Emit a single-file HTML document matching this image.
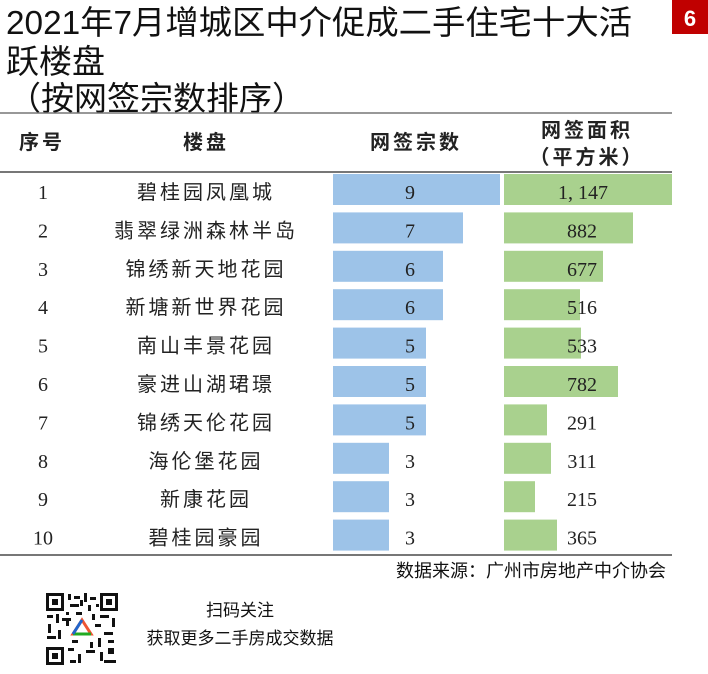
<!DOCTYPE html>
<html><head><meta charset="utf-8"><style>
html,body{margin:0;padding:0;background:#fff;width:708px;height:674px;overflow:hidden}
svg{display:block}
.t{font-family:"Liberation Sans","Noto Sans CJK SC",sans-serif;fill:#111}
.s{font-family:"Liberation Serif","Noto Serif CJK SC",serif;fill:#222;font-size:20px}
.h{font-family:"Liberation Sans","Noto Sans CJK SC",sans-serif;font-weight:bold;font-size:20px;fill:#222;letter-spacing:3px}
.n{font-family:"Liberation Sans","Noto Sans CJK SC",sans-serif;font-size:20px;fill:#222;letter-spacing:3px}
</style></head><body>
<svg width="708" height="674" viewBox="0 0 708 674" xmlns="http://www.w3.org/2000/svg">
<rect x="672" y="0" width="36" height="34" fill="#c00000"/>
<text x="690" y="26" text-anchor="middle" font-family="Liberation Sans,sans-serif" font-weight="bold" font-size="22" fill="#fff">6</text>
<text class="t" x="6" y="34" font-size="33" textLength="626" lengthAdjust="spacingAndGlyphs">2021年7月增城区中介促成二手住宅十大活</text>
<text class="t" x="6" y="73" font-size="33">跃楼盘</text>
<text class="t" x="8" y="110" font-size="33">（按网签宗数排序）</text>
<line x1="0" y1="113" x2="672" y2="113" stroke="#777" stroke-width="1.5"/>
<text class="h" x="42" y="149" text-anchor="middle">序号</text>
<text class="h" x="206" y="149" text-anchor="middle">楼盘</text>
<text class="h" x="416" y="149" text-anchor="middle">网签宗数</text>
<text class="h" x="587" y="137" text-anchor="middle">网签面积</text>
<text class="h" x="587" y="164" text-anchor="middle">（平方米）</text>
<line x1="0" y1="172" x2="672" y2="172" stroke="#777" stroke-width="2"/>
<g fill="#9dc3e8">
<rect x="333" y="174" width="167" height="31"/>
<rect x="333" y="212.4" width="130" height="31"/>
<rect x="333" y="250.8" width="110" height="31"/>
<rect x="333" y="289.2" width="110" height="31"/>
<rect x="333" y="327.6" width="93" height="31"/>
<rect x="333" y="366" width="93" height="31"/>
<rect x="333" y="404.4" width="93" height="31"/>
<rect x="333" y="442.8" width="56" height="31"/>
<rect x="333" y="481.2" width="56" height="31"/>
<rect x="333" y="519.6" width="56" height="31"/>
</g>
<g fill="#a9d18e">
<rect x="504" y="174" width="168" height="31"/>
<rect x="504" y="212.4" width="129" height="31"/>
<rect x="504" y="250.8" width="99" height="31"/>
<rect x="504" y="289.2" width="76" height="31"/>
<rect x="504" y="327.6" width="77" height="31"/>
<rect x="504" y="366" width="114" height="31"/>
<rect x="504" y="404.4" width="43" height="31"/>
<rect x="504" y="442.8" width="47" height="31"/>
<rect x="504" y="481.2" width="31" height="31"/>
<rect x="504" y="519.6" width="53" height="31"/>
</g>
<g class="s" text-anchor="middle">
<text x="43" y="199">1</text><text x="43" y="237.4">2</text><text x="43" y="275.8">3</text><text x="43" y="314.2">4</text><text x="43" y="352.6">5</text><text x="43" y="391">6</text><text x="43" y="429.4">7</text><text x="43" y="467.8">8</text><text x="43" y="506.2">9</text><text x="43" y="544.6">10</text>
<text x="410" y="199">9</text><text x="410" y="237.4">7</text><text x="410" y="275.8">6</text><text x="410" y="314.2">6</text><text x="410" y="352.6">5</text><text x="410" y="391">5</text><text x="410" y="429.4">5</text><text x="410" y="467.8">3</text><text x="410" y="506.2">3</text><text x="410" y="544.6">3</text>
<text x="583" y="199">1, 147</text><text x="582" y="237.4">882</text><text x="582" y="275.8">677</text><text x="582" y="314.2">516</text><text x="582" y="352.6">533</text><text x="582" y="391">782</text><text x="582" y="429.4">291</text><text x="582" y="467.8">311</text><text x="582" y="506.2">215</text><text x="582" y="544.6">365</text>
</g>
<g class="n" text-anchor="middle">
<text x="206" y="199">碧桂园凤凰城</text><text x="206" y="237.4">翡翠绿洲森林半岛</text><text x="206" y="275.8">锦绣新天地花园</text><text x="206" y="314.2">新塘新世界花园</text><text x="206" y="352.6">南山丰景花园</text><text x="206" y="391">豪进山湖珺璟</text><text x="206" y="429.4">锦绣天伦花园</text><text x="206" y="467.8">海伦堡花园</text><text x="206" y="506.2">新康花园</text><text x="206" y="544.6">碧桂园豪园</text>
</g>
<line x1="0" y1="555" x2="672" y2="555" stroke="#777" stroke-width="2"/>
<text class="t" x="666" y="577" text-anchor="end" font-size="18" fill="#444">数据来源：广州市房地产中介协会</text>
<text class="t" x="240" y="616" text-anchor="middle" font-size="17">扫码关注</text>
<text class="t" x="240" y="644" text-anchor="middle" font-size="17">获取更多二手房成交数据</text>
<g fill="#111">
<rect x="46" y="593" width="72" height="72" fill="#fff"/>
<rect x="46" y="593" width="18" height="18"/><rect x="49" y="596" width="12" height="12" fill="#fff"/><rect x="52" y="599" width="6" height="6"/>
<rect x="100" y="593" width="18" height="18"/><rect x="103" y="596" width="12" height="12" fill="#fff"/><rect x="106" y="599" width="6" height="6"/>
<rect x="46" y="647" width="18" height="18"/><rect x="49" y="650" width="12" height="12" fill="#fff"/><rect x="52" y="653" width="6" height="6"/>
<rect x="68" y="594" width="3" height="6"/><rect x="74" y="596" width="6" height="3"/><rect x="84" y="593" width="3" height="9"/><rect x="90" y="597" width="6" height="3"/><rect x="70" y="604" width="9" height="3"/><rect x="88" y="605" width="3" height="6"/>
<rect x="47" y="615" width="6" height="3"/><rect x="56" y="614" width="3" height="9"/><rect x="62" y="618" width="9" height="3"/><rect x="48" y="624" width="3" height="9"/><rect x="100" y="615" width="9" height="3"/><rect x="112" y="618" width="3" height="9"/><rect x="95" y="624" width="6" height="3"/>
<rect x="47" y="636" width="9" height="3"/><rect x="58" y="630" width="3" height="9"/><rect x="104" y="632" width="9" height="3"/><rect x="98" y="638" width="3" height="9"/><rect x="68" y="648" width="6" height="3"/><rect x="78" y="654" width="3" height="9"/><rect x="86" y="650" width="9" height="3"/><rect x="100" y="652" width="3" height="9"/><rect x="108" y="648" width="6" height="6"/><rect x="70" y="660" width="6" height="3"/><rect x="104" y="660" width="12" height="3"/><rect x="66" y="612" width="3" height="3"/><rect x="76" y="612" width="6" height="3"/><rect x="92" y="614" width="3" height="6"/>
<rect x="66" y="620" width="3" height="6"/><rect x="72" y="640" width="6" height="3"/><rect x="90" y="642" width="3" height="6"/><rect x="108" y="640" width="6" height="3"/><rect x="80" y="600" width="3" height="6"/><rect x="96" y="604" width="3" height="3"/>
</g>
<circle cx="82" cy="629" r="9" fill="#fff"/>
<path d="M82 620 L91 634 L73 634 Z" fill="none" stroke="#e53" stroke-width="3"/>
<path d="M73 634 L91 634" stroke="#2a2" stroke-width="3"/>
<path d="M82 620 L73 634" stroke="#26c" stroke-width="3"/>
</svg>
</body></html>
